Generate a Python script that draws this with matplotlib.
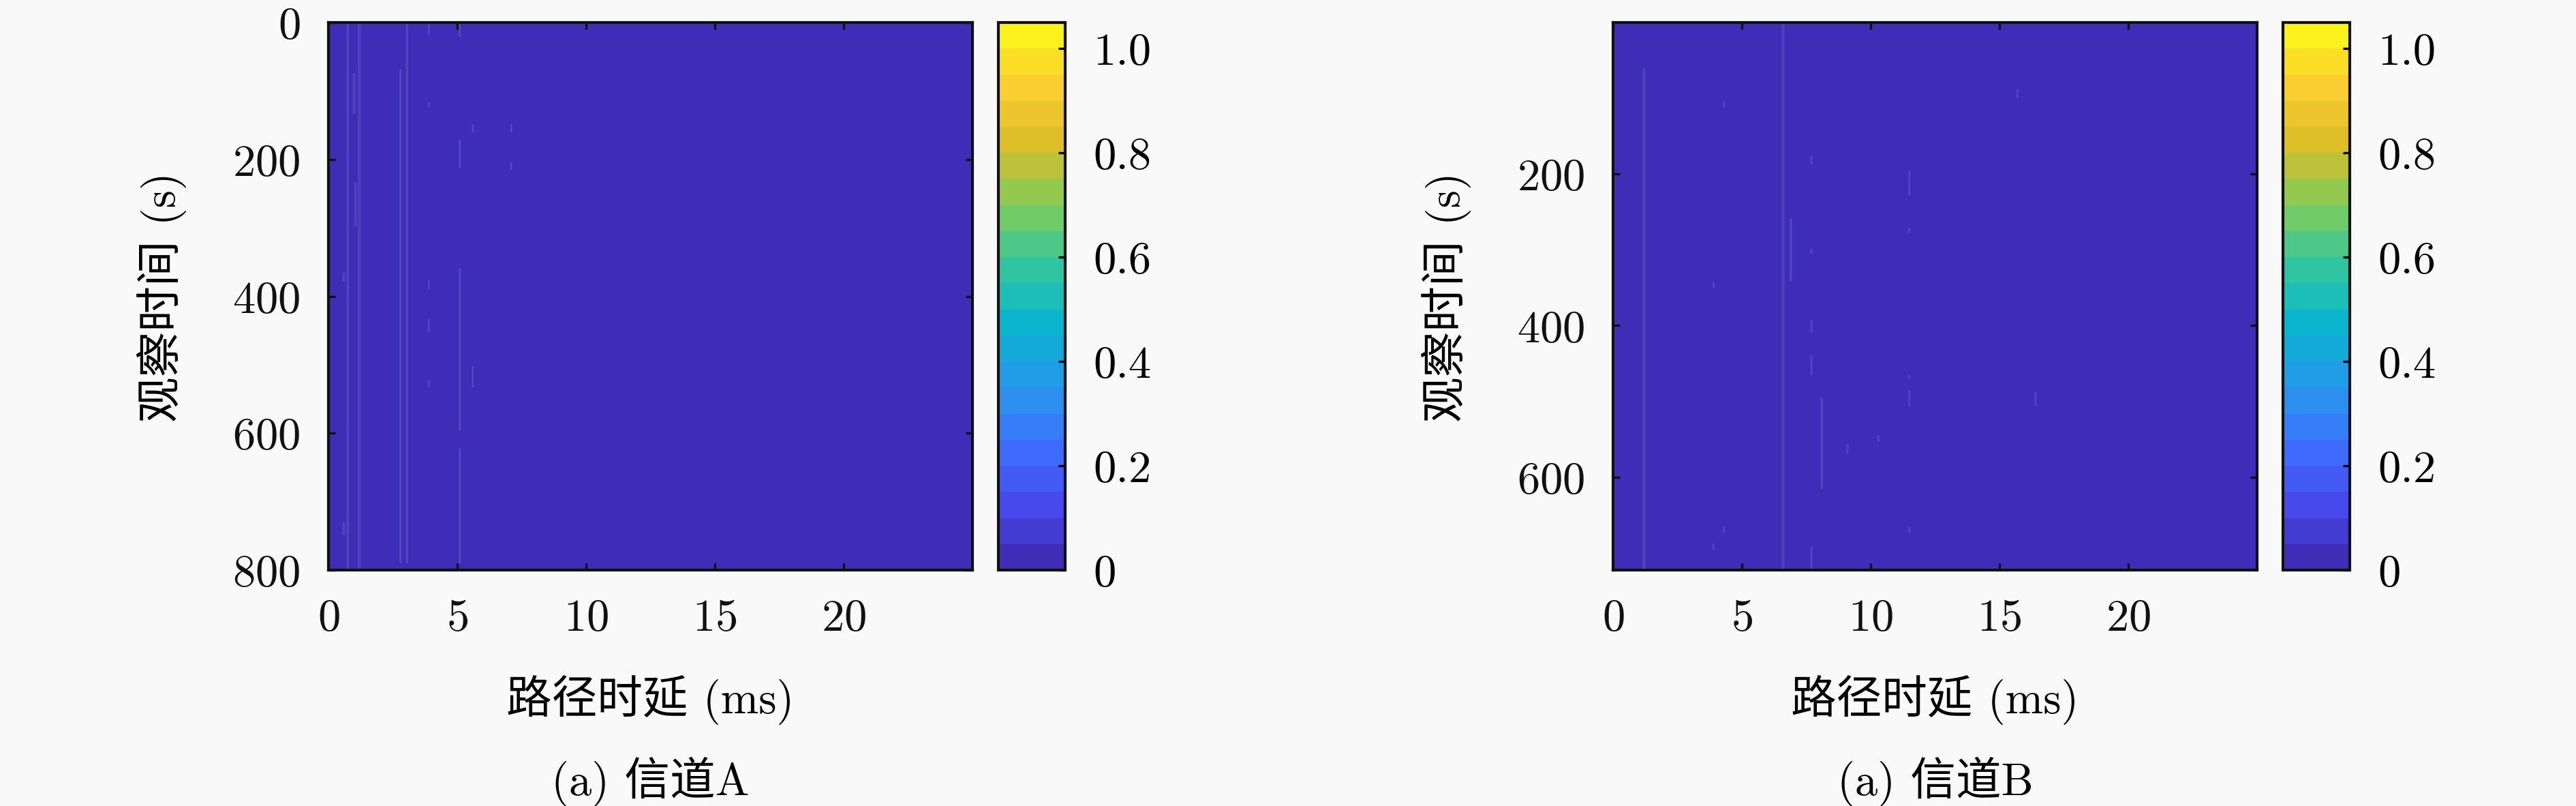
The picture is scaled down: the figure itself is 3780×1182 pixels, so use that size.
import numpy as np
import matplotlib
matplotlib.use("Agg")
import matplotlib.pyplot as plt
from matplotlib.colors import LinearSegmentedColormap

plt.rcParams['font.family'] = ['cmr10', 'Noto Sans CJK SC', 'DejaVu Sans']
plt.rcParams['axes.formatter.use_mathtext'] = True
plt.rcParams['font.size'] = 16

# ---------------- data ----------------
delay_max = 25.0                       # ms
timeA_max = 800                        # s
timeB_min, timeB_max = 1, 722          # s

# channel A: faint multipath traces (delay ms, start s, end s, amplitude)
segA_delay = [0.75, 1.2, 1.0, 1.05, 2.8, 3.05, 3.9, 3.9, 3.9, 3.9, 3.9,
              5.1, 5.1, 5.1, 5.1, 5.6, 5.6, 7.1, 7.1, 0.6, 0.6]
segA_t0 = [0, 0, 75, 235, 69, 0, 0, 117, 377, 434, 523,
           0, 172, 360, 623, 150, 503, 149, 205, 366, 731]
segA_t1 = [800, 800, 132, 297, 789, 789, 17, 123, 389, 452, 532,
           20, 212, 595, 789, 160, 532, 160, 215, 378, 748]
segA_amp = [0.03, 0.035, 0.04, 0.04, 0.025, 0.025, 0.02, 0.02, 0.02, 0.02, 0.02,
            0.025, 0.025, 0.025, 0.025, 0.02, 0.02, 0.02, 0.02, 0.03, 0.03]

# channel B
segB_delay = [1.2, 6.6, 6.9, 7.7, 7.7, 7.7, 7.7, 7.7, 8.1, 4.3, 4.3,
              3.9, 3.9, 9.1, 10.3, 11.5, 11.5, 11.5, 11.5, 11.5, 15.7, 16.4]
segB_t0 = [63, 1, 260, 177, 300, 393, 439, 692, 496, 105, 665,
           344, 688, 557, 545, 197, 272, 466, 486, 666, 89, 488]
segB_t1 = [722, 722, 340, 187, 305, 409, 465, 722, 614, 112, 672,
           350, 695, 568, 552, 228, 278, 470, 506, 672, 100, 506]
segB_amp = [0.03, 0.035, 0.025, 0.02, 0.02, 0.02, 0.02, 0.02, 0.025, 0.02, 0.02,
            0.02, 0.02, 0.02, 0.02, 0.02, 0.02, 0.02, 0.02, 0.02, 0.02, 0.02]

levels = np.linspace(0, 1.05, 22)
xticks = [0, 5, 10, 15, 20]
yticksA = [0, 200, 400, 600, 800]
yticksB = [200, 400, 600]
cbar_ticks = [0, 0.2, 0.4, 0.6, 0.8, 1.0]
cbar_labels = ['0', '0.2', '0.4', '0.6', '0.8', '1.0']
xlabel = '路径时延 (ms)'
ylabel = '观察时间 (s)'
captions = ['(a) 信道A', '(a) 信道B']

# parula-like colormap
parula = LinearSegmentedColormap.from_list('parula', [
    (0.2422, 0.1504, 0.6603), (0.2803, 0.2782, 0.9221), (0.2440, 0.4358, 0.9988),
    (0.1540, 0.5902, 0.9218), (0.0297, 0.7082, 0.8163), (0.1938, 0.7758, 0.6251),
    (0.5044, 0.7993, 0.3480), (0.8634, 0.7406, 0.1596), (0.9892, 0.8136, 0.1885),
    (0.9769, 0.9839, 0.0805)])


def build(t_lo, t_hi, d, t0, t1, amp):
    delays = np.linspace(0, delay_max, 501)
    times = np.arange(t_lo, t_hi + 1)
    Z = np.zeros((times.size, delays.size))
    for dd, a, b, v in zip(d, t0, t1, amp):
        j = int(np.argmin(np.abs(delays - dd)))
        mask = (times >= a) & (times <= b)
        Z[mask, j] = v
    return delays, times, Z


bg = '#f9f9f9'
fig = plt.figure(figsize=(12.6, 3.943), dpi=300, facecolor=bg)

specs = [
    dict(ax=[0.1275, 0.2925, 0.25, 0.6788], cax=[0.3876, 0.2925, 0.0259, 0.6788],
         t=(0, timeA_max), seg=(segA_delay, segA_t0, segA_t1, segA_amp), yt=yticksA),
    dict(ax=[0.6262, 0.2925, 0.25, 0.6788], cax=[0.8862, 0.2925, 0.0259, 0.6788],
         t=(timeB_min, timeB_max), seg=(segB_delay, segB_t0, segB_t1, segB_amp), yt=yticksB),
]

for i, s in enumerate(specs):
    ax = fig.add_axes(s['ax'])
    cax = fig.add_axes(s['cax'])
    delays, times, Z = build(s['t'][0], s['t'][1], *s['seg'])
    cs = ax.contourf(delays, times, Z, levels=levels, cmap=parula)
    ax.contour(delays, times, Z, levels=[0.015], colors=['#5446bf'], linewidths=0.4)
    ax.set_xlim(0, delay_max)
    ax.set_ylim(s['t'][1], s['t'][0])
    ax.set_xticks(xticks)
    ax.set_yticks(s['yt'])
    ax.tick_params(direction='in', top=True, right=True, length=2.5, width=0.8,
                   labelsize=16, pad=10, colors='#111111')
    for sp in ax.spines.values():
        sp.set_linewidth(1.0)
        sp.set_color('#111111')
    ax.set_xlabel(xlabel, fontsize=16)
    ax.xaxis.set_label_coords(0.5, -0.2366)
    ax.xaxis.label.set_va('center')
    ax.set_ylabel(ylabel, fontsize=16)
    ax.yaxis.set_label_coords(-0.259, 0.5)
    ax.yaxis.label.set_va('center')
    pos = s['ax']
    fig.text(pos[0] + pos[2] / 2, 0.031, captions[i], ha='center', va='center', fontsize=16)

    cb = fig.colorbar(cs, cax=cax)
    cb.set_ticks(cbar_ticks)
    cb.set_ticklabels(cbar_labels)
    cax.tick_params(direction='in', length=2.5, width=0.8, labelsize=16, pad=10)
    cb.outline.set_linewidth(1.0)
    cb.outline.set_edgecolor('#111111')

fig.savefig('out.png', dpi=300, facecolor=bg)
